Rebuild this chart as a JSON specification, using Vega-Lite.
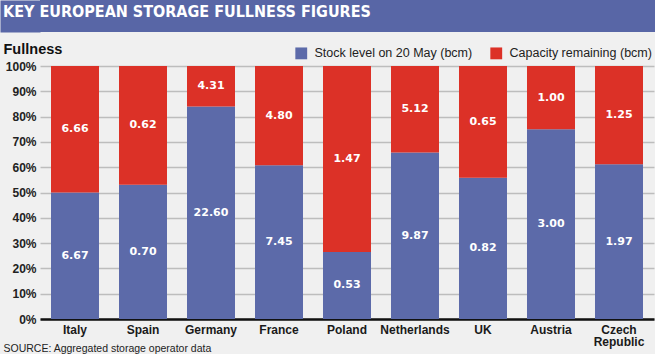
{
  "$schema": "https://vega.github.io/schema/vega-lite/v6.json",
  "padding": 0,
  "background": "#f0f0f0",
  "spacing": 9,
  "config": {
    "view": {"stroke": null},
    "axisY": {
      "titleAngle": 0, "titleAlign": "left", "titleBaseline": "alphabetic",
      "titleX": -37, "titleY": -13, "titleFont": "Liberation Sans", "titleFontSize": 14.5, "titleFontWeight": "bold", "titleColor": "#111111",
      "labelFont": "Liberation Sans", "labelFontSize": 12, "labelFontWeight": "bold", "labelColor": "#222222",
      "labelPadding": 4, "ticks": false, "domain": false, "minExtent": 40,
      "grid": true, "gridColor": "#bdbdbd", "gridWidth": 1.5
    }
  },
  "resolve": {"legend": {"color": "independent"}},
  "vconcat": [
    {
      "width": 615,
      "height": 32,
      "view": {"fill": "#5866a6", "stroke": null},
      "data": {"values": [{"t": "KEY EUROPEAN STORAGE FULLNESS FIGURES"}]},
      "mark": {"type": "text", "align": "left", "baseline": "alphabetic", "x": -37, "dy": 1, "font": "DejaVu Sans Condensed, Liberation Sans Narrow, sans-serif", "fontWeight": "bold", "fontSize": 16, "color": "#ffffff"},
      "encoding": {
        "text": {"field": "t"},
        "y": {
          "field": "t", "type": "nominal",
          "axis": {"title": null, "labels": false, "ticks": false, "grid": false, "domain": true, "domainColor": "#5866a6", "domainWidth": 40, "offset": 20, "domainCap": "butt", "minExtent": 0}
        }
      }
    },
    {
      "width": 614,
      "height": 253,
      "data": {"values": [
        {"country": "Italy", "series": "Stock level on 20 May (bcm)", "value": 6.67},
        {"country": "Italy", "series": "Capacity remaining (bcm)", "value": 6.66},
        {"country": "Spain", "series": "Stock level on 20 May (bcm)", "value": 0.70},
        {"country": "Spain", "series": "Capacity remaining (bcm)", "value": 0.62},
        {"country": "Germany", "series": "Stock level on 20 May (bcm)", "value": 22.60},
        {"country": "Germany", "series": "Capacity remaining (bcm)", "value": 4.31},
        {"country": "France", "series": "Stock level on 20 May (bcm)", "value": 7.45},
        {"country": "France", "series": "Capacity remaining (bcm)", "value": 4.80},
        {"country": "Poland", "series": "Stock level on 20 May (bcm)", "value": 0.53},
        {"country": "Poland", "series": "Capacity remaining (bcm)", "value": 1.47},
        {"country": "Netherlands", "series": "Stock level on 20 May (bcm)", "value": 9.87},
        {"country": "Netherlands", "series": "Capacity remaining (bcm)", "value": 5.12},
        {"country": "UK", "series": "Stock level on 20 May (bcm)", "value": 0.82},
        {"country": "UK", "series": "Capacity remaining (bcm)", "value": 0.65},
        {"country": "Austria", "series": "Stock level on 20 May (bcm)", "value": 3.00},
        {"country": "Austria", "series": "Capacity remaining (bcm)", "value": 1.00},
        {"country": "Czech Republic", "series": "Stock level on 20 May (bcm)", "value": 1.97},
        {"country": "Czech Republic", "series": "Capacity remaining (bcm)", "value": 1.25}
      ]},
      "transform": [
        {"calculate": "datum.series === 'Stock level on 20 May (bcm)' ? 0 : 1", "as": "ord"},
        {"stack": "value", "groupby": ["country"], "offset": "normalize", "sort": [{"field": "ord", "order": "ascending"}], "as": ["v0", "v1"]},
        {"calculate": "(datum.v0 + datum.v1) / 2", "as": "mid"}
      ],
      "encoding": {
        "x": {
          "field": "country", "type": "nominal", "sort": null,
          "scale": {"paddingInner": 0.2941, "paddingOuter": 0.1618},
          "axis": {
            "title": "SOURCE: Aggregated storage operator data",
            "titleFont": "Liberation Sans", "titleFontSize": 10.5, "titleFontWeight": "normal", "titleColor": "#222222",
            "titleAlign": "left", "titleBaseline": "middle", "titleX": -37, "titleY": 29, "titleAnchor": "start",
            "labelAngle": 0, "labelExpr": "split(datum.value, ' ')", "labelLineHeight": 12,
            "labelFont": "Liberation Sans", "labelFontSize": 12, "labelFontWeight": "bold", "labelColor": "#1a1a1a",
            "labelPadding": 5, "ticks": false, "domainColor": "#111111", "domainWidth": 2.5, "grid": false
          }
        }
      },
      "layer": [
        {
          "mark": {"type": "bar"},
          "encoding": {
            "y": {
              "field": "v0", "type": "quantitative", "scale": {"domain": [0, 1]},
              "axis": {"title": "Fullness", "format": ".0%", "values": [0, 0.1, 0.2, 0.3, 0.4, 0.5, 0.6, 0.7, 0.8, 0.9, 1]}
            },
            "y2": {"field": "v1"},
            "color": {
              "field": "series", "type": "nominal",
              "scale": {"domain": ["Stock level on 20 May (bcm)", "Capacity remaining (bcm)"], "range": ["#5c6aa9", "#dc3127"]},
              "legend": {
                "title": null, "orient": "none", "direction": "horizontal", "legendX": 255, "legendY": -19,
                "symbolType": "square", "symbolSize": 140, "symbolStrokeWidth": 0, "symbolOpacity": 1,
                "labelFont": "Liberation Sans", "labelFontSize": 12.5, "labelColor": "#222222", "labelLimit": 0,
                "labelOffset": 7, "columnPadding": 17, "padding": 0
              }
            }
          }
        },
        {
          "mark": {"type": "text", "font": "DejaVu Sans", "fontWeight": "bold", "fontSize": 11, "color": "#ffffff", "baseline": "middle"},
          "encoding": {
            "y": {"field": "mid", "type": "quantitative", "axis": {"title": "Fullness", "format": ".0%", "values": [0, 0.1, 0.2, 0.3, 0.4, 0.5, 0.6, 0.7, 0.8, 0.9, 1]}},
            "text": {"field": "value", "type": "quantitative", "format": ".2f"}
          }
        }
      ]
    }
  ]
}
